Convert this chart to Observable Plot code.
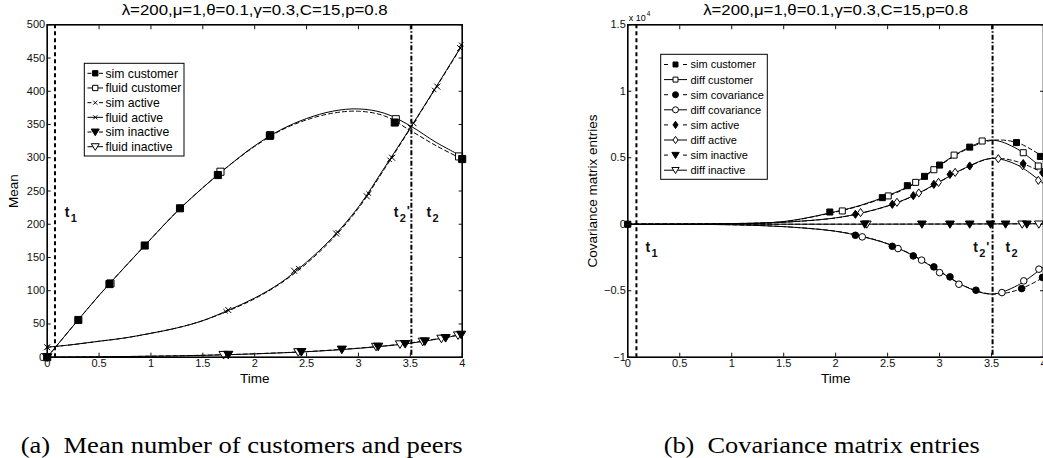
<!DOCTYPE html>
<html><head><meta charset="utf-8">
<script src="https://cdn.jsdelivr.net/npm/d3@7"></script>
<script src="https://cdn.jsdelivr.net/npm/@observablehq/plot@0.6"></script>
<style>
html,body{margin:0;padding:0;background:#fff;overflow:hidden;width:1043px;height:458px;}
#wrap{position:relative;width:1043px;height:458px;overflow:hidden;background:#fff;}
#left{position:absolute;left:0;top:0;width:520px;height:458px;}
#right{position:absolute;left:520px;top:0;width:540px;height:458px;}
#wrap svg{max-width:none !important;}
</style></head><body><div id="wrap"><div id="left"></div><div id="right"></div></div>
<script>
// ---------- DATA: left panel (means) ----------
const titleText = "λ=200,μ=1,θ=0.1,γ=0.3,C=15,p=0.8";
const gridA = [0,0.25,0.5,0.75,1,1.25,1.5,1.75,2,2.25,2.5,2.75,3,3.25,3.5,3.75,4];
const fluidCustomer = [0,47,93,136,178,219,255,288,318,342,359,370,373.5,367,348,323,302];
const simCustomer   = [0,47,93,136,178,219,255,288,317,341,357,367,370,363,341,318,298];
const fluidActive   = [15,19,24,29,36,44,55,71,89,112,143,180,226,285,345,407,470];
const simActive     = [15,19,24,29,36,44,55,70,88,111,141,178,224,283,344,406,469];
const fluidInactive = [0,0.3,0.6,1,1.5,2,2.8,3.8,5,6.5,8.2,10.5,13.3,16.7,21,27,34];
const simInactive   = [0,0.3,0.6,1,1.5,2.1,2.9,3.9,5.2,6.7,8.4,10.8,13.6,17,21.5,27.5,34.5];
// markers
const simCustMkT  = [0,0.3,0.6,0.94,1.28,1.645,2.146,3.35,4.0];
const simCustMkV  = [0,56,110,168,224,274,333,353,298];
const fluCustMkT  = [0.61,1.67,2.15,3.36,3.97];
const fluCustMkV  = [111,279,334,358,302];
const simActMkT   = [0,1.72,2.42,2.8,3.1,3.3,3.5,3.73,3.99];
const simActMkV   = [15,69,134,188,246,297,346,402,470];
const fluActMkT   = [0,1.745,2.38,2.785,3.08,3.325,3.53,3.76,3.98];
const fluActMkV   = [15,71,130,186,242,300,352,407,465];
const simInaMkT   = [0,1.745,2.45,2.84,3.19,3.45,3.64,3.84,3.99];
const simInaMkV   = [0,3.8,7.9,11.6,16,20,24,29,34];
const fluInaMkT   = [1.70,2.42,3.17,3.40,3.62,3.80,3.96];
const fluInaMkV   = [3.6,7.7,15.8,19.5,23.5,28,33];
const xTicks = [0,0.5,1,1.5,2,2.5,3,3.5,4];
const yTicksA = [0,50,100,150,200,250,300,350,400,450,500];
const t1 = 0.075, t2p = 3.51;
const legendA = ["sim customer","fluid customer","sim active","fluid active","sim inactive","fluid inactive"];

// ---------- DATA: right panel (covariances) ----------
const gridB = [0,0.5,1,1.5,2,2.25,2.5,2.75,3,3.25,3.5,3.75,4];
const diffCustomer = [0,10,50,200,950,1450,2150,3050,4450,5650,6330,5650,4100];
const simCustomerB = [0,10,50,200,920,1420,2100,3000,4400,5600,6300,6130,5050];
const diffCov      = [0,-5,-40,-180,-530,-920,-1480,-2380,-3550,-4700,-5250,-4600,-3200];
const simCov       = [0,-5,-40,-180,-520,-900,-1460,-2350,-3520,-4680,-5250,-4950,-4000];
const diffActive   = [0,5,30,150,480,850,1380,2150,3200,4250,4950,4450,3050];
const simActiveB   = [0,5,30,150,470,840,1370,2130,3180,4230,4950,4700,3850];
const diffInactive = [0,0,1,2,4,6,8,11,15,20,25,32,40];
const simInactiveB = [0,0,1,2,4,6,8,11,15,19,24,30,38];
const sCustT = [0,1.944,2.449,2.69,2.855,3.0,3.29,3.74,3.97];
const sCustV = [0,920,2000,2900,3600,4450,5800,6140,5100];
const dCustT = [2.064,2.506,2.77,2.945,3.14,3.41,3.805,3.95];
const dCustV = [1000,2130,3150,4100,5200,6260,5380,4380];
const sCovT = [0,2.19,2.545,2.747,2.945,3.1,3.35,3.79,3.99];
const sCovV = [0,-830,-1660,-2380,-3210,-3960,-4960,-4840,-4000];
const dCovT = [2.256,2.6,2.827,3.0,3.186,3.6,3.81,3.956];
const dCovV = [-950,-1830,-2700,-3640,-4510,-5140,-4260,-3380];
const sActT = [2.19,2.545,2.747,2.945,3.1,3.29,3.805,3.99];
const sActV = [750,1500,2150,3000,3750,4380,4560,3880];
const dActT = [2.24,2.59,2.80,2.99,3.15,3.565,3.8,3.95];
const dActV = [880,1650,2350,3150,3900,4930,4400,3300];
const sInaT = [2.28,2.83,3.10,3.29,3.49,3.635,3.84];
const sInaV = [0,0,0,0,0,0,0];
const dInaT = [2.30,3.795,3.955];
const dInaV = [0,0,0];
const yTicksB = [-10000,-5000,0,5000,10000,15000];
const legendB = ["sim customer","diff customer","sim covariance","diff covariance","sim active","diff active","sim inactive","diff inactive"];

// annotation positions (data coords)
const tLabA = [{x:0.17,y:218,sub:"1",prime:false},{x:3.34,y:218,sub:"2",prime:true},{x:3.656,y:218,sub:"2",prime:false}];
const tLabB = [{x:0.17,y:-1760,sub:"1",prime:false},{x:3.325,y:-1760,sub:"2",prime:true},{x:3.635,y:-1760,sub:"2",prime:false}];

// ---------- helpers ----------
const zipS = (ts, vs) => ts.map((t,i)=>({t, v: vs[i]}));
const downTri = {draw(ctx,size){const r=Math.sqrt(size/Math.PI);ctx.moveTo(-r*1.15,-r*0.85);ctx.lineTo(r*1.15,-r*0.85);ctx.lineTo(0,r*1.05);ctx.closePath();}};
const timesSym = {draw(ctx,size){const r=Math.sqrt(size/Math.PI);ctx.moveTo(-r,-r);ctx.lineTo(r,r);ctx.moveTo(-r,r);ctx.lineTo(r,-r);}};
const diamondSym = {draw(ctx,size){const r=Math.sqrt(size/Math.PI);ctx.moveTo(0,-1.2*r);ctx.lineTo(0.85*r,0);ctx.lineTo(0,1.2*r);ctx.lineTo(-0.85*r,0);ctx.closePath();}};
const squareSym = {draw(ctx,size){const h=Math.sqrt(size)/2;ctx.rect(-h,-h,2*h,2*h);}};
const circleSym = {draw(ctx,size){const r=Math.sqrt(size/Math.PI);ctx.moveTo(r,0);ctx.arc(0,0,r,0,2*Math.PI);}};
const FONT = "'Liberation Sans', Arial, Helvetica, sans-serif";
const SERIF = "'Liberation Serif','DejaVu Serif',serif";
const DASH = "4,3";

function lineMark(data, dashed){
  return Plot.line(data,{x:"t",y:"v",stroke:"black",strokeWidth:1,strokeDasharray:dashed?DASH:null,curve:"catmull-rom"});
}
function dotMark(data, sym, filled, r){
  return Plot.dot(data,{x:"t",y:"v",symbol:sym,r,fill:filled?"black":"white",stroke:"black",strokeWidth:1});
}
function tLabels(arr){
  return [
    Plot.text(arr,{x:"x",y:"y",text:()=>"t",textAnchor:"start",fontWeight:"bold",fontSize:14}),
    Plot.text(arr,{x:"x",y:"y",text:"sub",textAnchor:"start",fontWeight:"bold",fontSize:11,dx:6,dy:6}),
    Plot.text(arr.filter(d=>d.prime),{x:"x",y:"y",text:()=>"'",textAnchor:"start",fontWeight:"bold",fontSize:13,dx:13,dy:-1})
  ];
}
function axes(ticksX, ticksY, fmtY){
  return [
    Plot.axisX({anchor:"bottom",ticks:ticksX,tickSize:-4,tickPadding:6,label:null,tickFormat:d=>String(d)}),
    Plot.axisX({anchor:"top",ticks:ticksX,tickSize:-4,label:null,tickFormat:()=>""}),
    Plot.axisY({anchor:"left",ticks:ticksY,tickSize:-4,tickPadding:6,label:null,tickFormat:fmtY}),
    Plot.axisY({anchor:"right",ticks:ticksY,tickSize:-4,label:null,tickFormat:()=>""})
  ];
}
function label(txt, frameAnchor, o){
  return Plot.text([txt],{frameAnchor,textAnchor:"middle",lineAnchor:"middle",fill:"black",...o});
}
function fitText(svg, txt, len){
  d3.select(svg).selectAll("text").filter(function(){return this.textContent===txt;})
    .attr("textLength",len).attr("lengthAdjust","spacingAndGlyphs");
}
function drawLegend(svg, box, rows, fs){
  const g = d3.select(svg).append("g").attr("font-family",FONT).attr("font-size",fs).attr("text-anchor","start");
  g.append("rect").attr("x",box.x0).attr("y",box.y0).attr("width",box.x1-box.x0).attr("height",box.y1-box.y0)
    .attr("fill","white").attr("stroke","black").attr("stroke-width",1);
  rows.forEach((r,i)=>{
    const y = box.rowY0 + i*box.rowH;
    if(r.dashed){
      g.append("line").attr("x1",box.sx0).attr("x2",box.sx0+4).attr("y1",y).attr("y2",y).attr("stroke","black");
      g.append("line").attr("x1",box.sx1-4).attr("x2",box.sx1).attr("y1",y).attr("y2",y).attr("stroke","black");
    } else {
      g.append("line").attr("x1",box.sx0).attr("x2",box.sx1).attr("y1",y).attr("y2",y).attr("stroke","black");
    }
    g.append("path").attr("d",d3.symbol(r.sym, Math.PI*r.r*r.r)()).attr("transform",`translate(${(box.sx0+box.sx1)/2},${y})`)
      .attr("fill",r.filled?"black":"white").attr("stroke","black").attr("stroke-width",1);
    g.append("text").attr("x",box.tx).attr("y",y).attr("dy","0.36em").attr("fill","black").attr("text-anchor","start").text(r.label);
  });
}

// ---------- LEFT PLOT ----------
const capA = "(a)  Mean number of customers and peers";
const left = Plot.plot({
  width:520, height:458,
  marginLeft:46.7, marginRight:58.3, marginTop:24.3, marginBottom:101.3,
  style:{fontFamily:FONT,fontSize:"11px",color:"#111",background:"white",overflow:"visible",maxWidth:"none"},
  x:{domain:[0,4]}, y:{domain:[0,500]},
  marks:[
    Plot.ruleX([t1],{stroke:"black",strokeWidth:2,strokeDasharray:"4,3"}),
    Plot.ruleX([t2p],{stroke:"black",strokeWidth:2,strokeDasharray:"5,2,1.5,2"}),
    lineMark(zipS(gridA,simCustomer),true),
    lineMark(zipS(gridA,fluidCustomer),false),
    lineMark(zipS(gridA,simActive),true),
    lineMark(zipS(gridA,fluidActive),false),
    lineMark(zipS(gridA,simInactive),true),
    lineMark(zipS(gridA,fluidInactive),false),
    dotMark(zipS(fluCustMkT,fluCustMkV),squareSym,false,4),
    dotMark(zipS(simCustMkT,simCustMkV),squareSym,true,4),
    dotMark(zipS(simActMkT,simActMkV),timesSym,false,2.2),
    dotMark(zipS(fluActMkT,fluActMkV),timesSym,false,3),
    dotMark(zipS(fluInaMkT,fluInaMkV),downTri,false,4),
    dotMark(zipS(simInaMkT,simInaMkV),downTri,true,4),
    ...tLabels(tLabA),
    Plot.frame({stroke:"black",strokeWidth:1.6}),
    ...axes(xTicks,yTicksA,d=>String(d)),
    label(titleText,"top",{dy:-14,fontSize:14}),
    label("Mean","left",{dx:-33.7,rotate:-90,fontSize:13.5}),
    label("Time","bottom",{dy:21.5,fontSize:13.5}),
    label(capA,"bottom",{dx:-13,dy:88.5,fontSize:23,fontFamily:SERIF})
  ]
});
document.getElementById("left").appendChild(left);
fitText(left, titleText, 266);
fitText(left, capA, 442);
drawLegend(left,{x0:84.3,x1:184,y0:63.3,y1:156,rowY0:73.3,rowH:14.68,sx0:87.5,sx1:103,tx:105.5},[
  {label:legendA[0],dashed:true,sym:squareSym,filled:true,r:3},
  {label:legendA[1],dashed:false,sym:squareSym,filled:false,r:3},
  {label:legendA[2],dashed:true,sym:timesSym,filled:false,r:2},
  {label:legendA[3],dashed:false,sym:timesSym,filled:false,r:2},
  {label:legendA[4],dashed:true,sym:downTri,filled:true,r:3.5},
  {label:legendA[5],dashed:false,sym:downTri,filled:false,r:3.5}
], 12.2);

// ---------- RIGHT PLOT ----------
const capB = "(b)  Covariance matrix entries";
const yLabelB = "Covariance matrix entries";
const fmtB = d => d===0 ? "0" : (d<0?"−":"") + String(Math.abs(d)/1e4);
const right = Plot.plot({
  width:540, height:458,
  marginLeft:107.3, marginRight:17, marginTop:24.3, marginBottom:101.3,
  style:{fontFamily:FONT,fontSize:"11px",color:"#111",background:"white",overflow:"visible",maxWidth:"none"},
  x:{domain:[0,4]}, y:{domain:[-10000,15000]},
  marks:[
    Plot.ruleX([t1+0.008],{stroke:"black",strokeWidth:2,strokeDasharray:"4,3"}),
    Plot.ruleX([t2p],{stroke:"black",strokeWidth:2,strokeDasharray:"5,2,1.5,2"}),
    lineMark(zipS(gridB,simCustomerB),true),
    lineMark(zipS(gridB,diffCustomer),false),
    lineMark(zipS(gridB,simCov),true),
    lineMark(zipS(gridB,diffCov),false),
    lineMark(zipS(gridB,simActiveB),true),
    lineMark(zipS(gridB,diffActive),false),
    lineMark(zipS(gridB,simInactiveB),true),
    lineMark(zipS(gridB,diffInactive),false),
    dotMark(zipS(dCustT,dCustV),squareSym,false,3.4),
    dotMark(zipS(sCustT,sCustV),squareSym,true,3.4),
    dotMark(zipS(dCovT,dCovV),circleSym,false,3.3),
    dotMark(zipS(sCovT,sCovV),circleSym,true,3.3),
    dotMark(zipS(dActT,dActV),diamondSym,false,3.4),
    dotMark(zipS(sActT,sActV),diamondSym,true,3.4),
    dotMark(zipS(dInaT,dInaV),downTri,false,3.8),
    dotMark(zipS(sInaT,sInaV),downTri,true,3.8),
    ...tLabels(tLabB),
    Plot.frame({stroke:"black",strokeWidth:1.6}),
    ...axes(xTicks,yTicksB,fmtB),
    Plot.text(["x 10"],{frameAnchor:"top-left",dx:1,dy:-7,textAnchor:"start",lineAnchor:"middle",fontSize:9,fill:"black"}),
    Plot.text(["4"],{frameAnchor:"top-left",dx:19,dy:-11,textAnchor:"start",lineAnchor:"middle",fontSize:6.5,fill:"black"}),
    label(titleText,"top",{dy:-14,fontSize:14}),
    label(yLabelB,"left",{dx:-35.6,rotate:-90,fontSize:13.5}),
    label("Time","bottom",{dy:21.5,fontSize:13.5}),
    label(capB,"bottom",{dx:-14,dy:88.5,fontSize:23,fontFamily:SERIF})
  ]
});
document.getElementById("right").appendChild(right);
fitText(right, titleText, 265);
fitText(right, capB, 316);
drawLegend(right,{x0:140.7,x1:247.3,y0:54.3,y1:179.3,rowY0:64.5,rowH:15.1,sx0:144,sx1:167,tx:170.5},[
  {label:legendB[0],dashed:true,sym:squareSym,filled:true,r:2.8},
  {label:legendB[1],dashed:false,sym:squareSym,filled:false,r:2.8},
  {label:legendB[2],dashed:true,sym:circleSym,filled:true,r:3},
  {label:legendB[3],dashed:false,sym:circleSym,filled:false,r:3},
  {label:legendB[4],dashed:true,sym:diamondSym,filled:true,r:3},
  {label:legendB[5],dashed:false,sym:diamondSym,filled:false,r:3},
  {label:legendB[6],dashed:true,sym:downTri,filled:true,r:3.2},
  {label:legendB[7],dashed:false,sym:downTri,filled:false,r:3.2}
], 11);
</script></body></html>
